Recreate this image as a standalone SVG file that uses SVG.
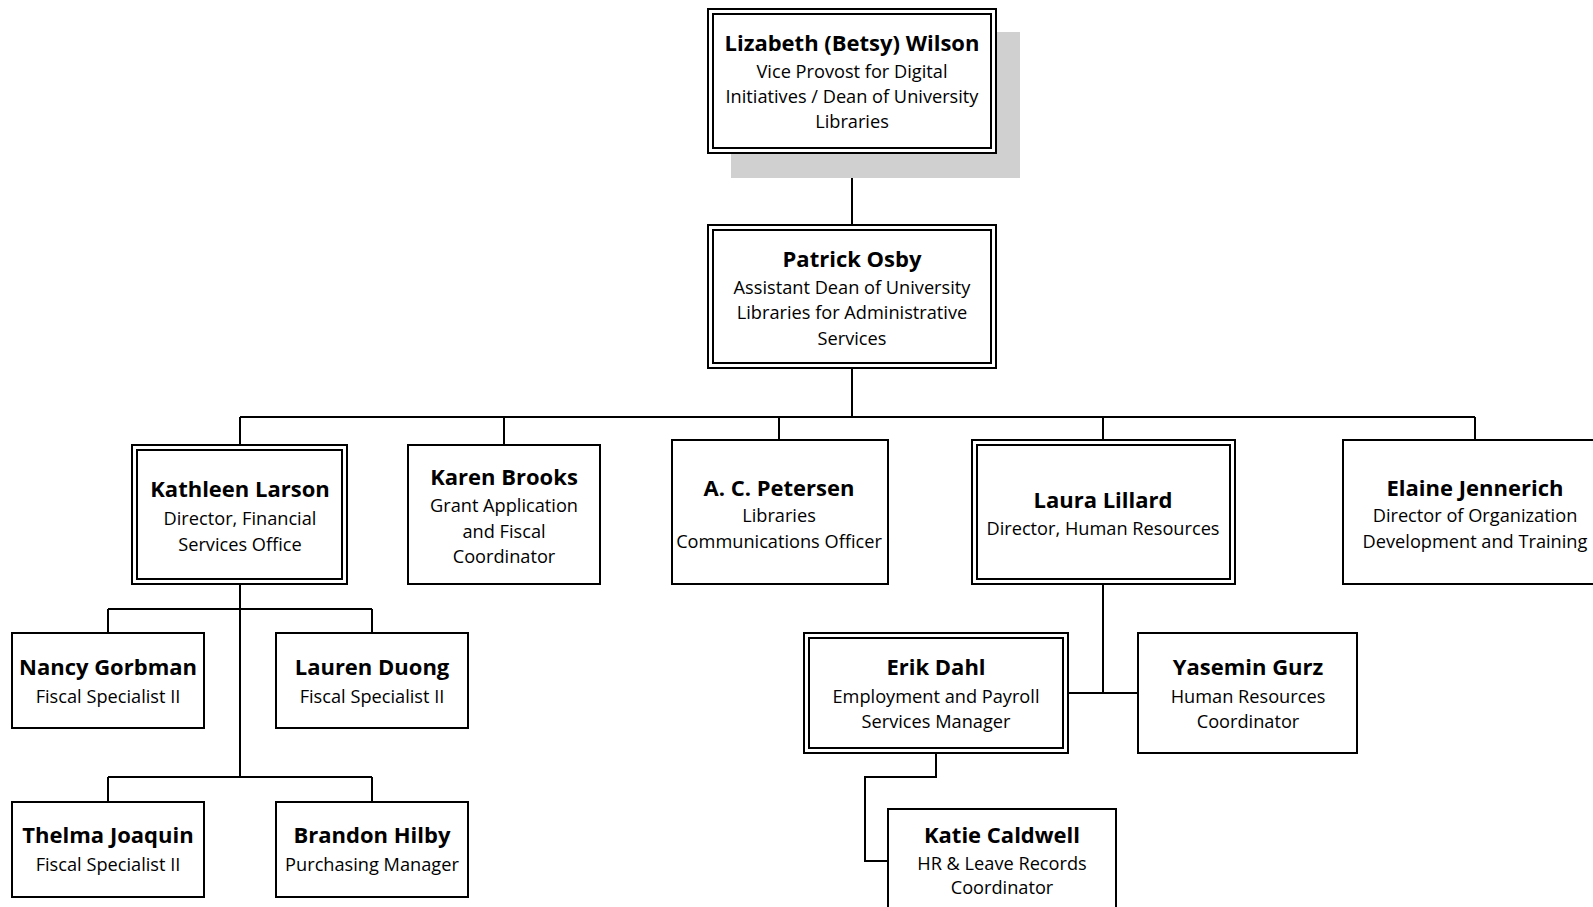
<svg xmlns="http://www.w3.org/2000/svg" width="1593" height="907" viewBox="0 0 1593 907">
<style>
.b{fill:#fff;stroke:#000;stroke-width:2}
.i{fill:none;stroke:#000;stroke-width:2}
.c{fill:none;stroke:#000;stroke-width:2}
text{font-family:"Open Sans","Noto Sans","Liberation Sans",sans-serif;text-anchor:middle;fill:#000}
.n{font-size:22px;font-weight:bold}
.s{font-size:18.2px}
</style>
<rect width="1593" height="907" fill="#fff"/>
<g id="connectors">
<path class="c" d="M852 153V225M852 368V417M240 417H1475M240 417V445M504 417V445M779 417V440M1103 417V440M1475 417V440"/>
<path class="c" d="M240 584V777M108 609H372M108 609V633M372 609V633M108 777H372M108 777V802M372 777V802"/>
<path class="c" d="M1103 584V693M1068 693H1138M936 753V777H865V861H888"/>
</g>
<g id="wilson">
<rect x="731" y="32" width="289" height="146" fill="#d0d0d0"/>
<rect class="b" x="708" y="9" width="288" height="144"/>
<rect class="i" x="713" y="14" width="278" height="134"/>
<text class="n" x="852" y="51">Lizabeth (Betsy) Wilson</text>
<text class="s" x="852" y="78">Vice Provost for Digital</text>
<text class="s" x="852" y="103">Initiatives / Dean of University</text>
<text class="s" x="852" y="128">Libraries</text>
</g>
<g id="osby">
<rect class="b" x="708" y="225" width="288" height="143"/>
<rect class="i" x="713" y="230" width="278" height="133"/>
<text class="n" x="852" y="267">Patrick Osby</text>
<text class="s" x="852" y="294">Assistant Dean of University</text>
<text class="s" x="852" y="319">Libraries for Administrative</text>
<text class="s" x="852" y="345">Services</text>
</g>
<g id="larson">
<rect class="b" x="132" y="445" width="215" height="139"/>
<rect class="i" x="137" y="450" width="205" height="129"/>
<text class="n" x="240" y="497">Kathleen Larson</text>
<text class="s" x="240" y="525">Director, Financial</text>
<text class="s" x="240" y="551">Services Office</text>
</g>
<g id="brooks">
<rect class="b" x="408" y="445" width="192" height="139"/>
<text class="n" x="504" y="485">Karen Brooks</text>
<text class="s" x="504" y="512">Grant Application</text>
<text class="s" x="504" y="538">and Fiscal</text>
<text class="s" x="504" y="563">Coordinator</text>
</g>
<g id="petersen">
<rect class="b" x="672" y="440" width="216" height="144"/>
<text class="n" x="779" y="496">A. C. Petersen</text>
<text class="s" x="779" y="522">Libraries</text>
<text class="s" x="779" y="548">Communications Officer</text>
</g>
<g id="lillard">
<rect class="b" x="972" y="440" width="263" height="144"/>
<rect class="i" x="977" y="445" width="253" height="134"/>
<text class="n" x="1103" y="508">Laura Lillard</text>
<text class="s" x="1103" y="535">Director, Human Resources</text>
</g>
<g id="jennerich">
<rect class="b" x="1343" y="440" width="260" height="144"/>
<text class="n" x="1475" y="496">Elaine Jennerich</text>
<text class="s" x="1475" y="522">Director of Organization</text>
<text class="s" x="1475" y="548">Development and Training</text>
</g>
<g id="gorbman">
<rect class="b" x="12" y="633" width="192" height="95"/>
<text class="n" x="108" y="675">Nancy Gorbman</text>
<text class="s" x="108" y="703">Fiscal Specialist II</text>
</g>
<g id="duong">
<rect class="b" x="276" y="633" width="192" height="95"/>
<text class="n" x="372" y="675">Lauren Duong</text>
<text class="s" x="372" y="703">Fiscal Specialist II</text>
</g>
<g id="joaquin">
<rect class="b" x="12" y="802" width="192" height="95"/>
<text class="n" x="108" y="843">Thelma Joaquin</text>
<text class="s" x="108" y="871">Fiscal Specialist II</text>
</g>
<g id="hilby">
<rect class="b" x="276" y="802" width="192" height="95"/>
<text class="n" x="372" y="843">Brandon Hilby</text>
<text class="s" x="372" y="871">Purchasing Manager</text>
</g>
<g id="dahl">
<rect class="b" x="804" y="633" width="264" height="120"/>
<rect class="i" x="809" y="638" width="254" height="110"/>
<text class="n" x="936" y="675">Erik Dahl</text>
<text class="s" x="936" y="703">Employment and Payroll</text>
<text class="s" x="936" y="728">Services Manager</text>
</g>
<g id="gurz">
<rect class="b" x="1138" y="633" width="219" height="120"/>
<text class="n" x="1248" y="675">Yasemin Gurz</text>
<text class="s" x="1248" y="703">Human Resources</text>
<text class="s" x="1248" y="728">Coordinator</text>
</g>
<g id="caldwell">
<rect class="b" x="888" y="809" width="228" height="110"/>
<text class="n" x="1002" y="843">Katie Caldwell</text>
<text class="s" x="1002" y="870">HR &amp; Leave Records</text>
<text class="s" x="1002" y="894">Coordinator</text>
</g>
</svg>
